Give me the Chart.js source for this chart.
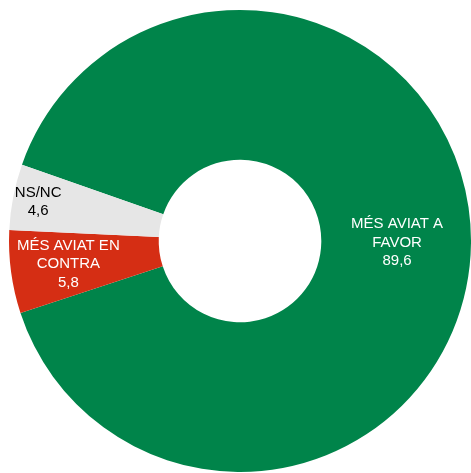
<!DOCTYPE html>
<html>
<head>
<meta charset="utf-8">
<script src="https://cdn.jsdelivr.net/npm/chart.js@4.4.1/dist/chart.umd.min.js"></script>
<style>
  html, body { margin: 0; padding: 0; background: #fff; }
  #wrap { width: 471px; height: 473px; }
</style>
</head>
<body>
<div id="wrap"><canvas id="myChart"></canvas></div>
<script>
const labels = [["MÉS AVIAT A", "FAVOR"], ["MÉS AVIAT EN", "CONTRA"], ["NS/NC"]];
const values = [89.6, 5.8, 4.6];
const valueText = ["89,6", "5,8", "4,6"];
const colors = ["#00844a", "#d52e14", "#e6e6e6"];
const textColors = ["#ffffff", "#ffffff", "#000000"];
const labelRadius = [0.68, 0.75, 0.89];

// draws the category + value text inside each slice
const sliceLabels = {
  id: "sliceLabels",
  afterDatasetsDraw(chart) {
    const ctx = chart.ctx;
    const arcs = chart.getDatasetMeta(0).data;
    ctx.save();
    ctx.font = "15px 'Liberation Sans', Arial, sans-serif";
    ctx.textAlign = "center";
    ctx.textBaseline = "middle";
    arcs.forEach((arc, i) => {
      const p = arc.getProps(["x", "y", "startAngle", "endAngle", "outerRadius"], true);
      const mid = (p.startAngle + p.endAngle) / 2;
      const r = p.outerRadius * labelRadius[i];
      const cx = p.x + Math.cos(mid) * r;
      const cy = p.y + Math.sin(mid) * r;
      const lines = labels[i].concat([valueText[i]]);
      const lh = 18.5;
      const top = cy - (lines.length - 1) * lh / 2;
      ctx.fillStyle = textColors[i];
      lines.forEach((t, j) => ctx.fillText(t, cx, top + j * lh));
    });
    ctx.restore();
  }
};

new Chart("myChart", {
  type: "doughnut",
  data: {
    labels: labels.map(l => l.join(" ")),
    datasets: [{
      data: values,
      backgroundColor: colors,
      borderWidth: 0
    }]
  },
  options: {
    responsive: true,
    maintainAspectRatio: false,
    animation: false,
    cutout: "35.2%",
    rotation: -70.7,
    layout: { padding: { left: 9, top: 9, right: 0, bottom: 0 } },
    plugins: {
      legend: { display: false },
      tooltip: { enabled: false }
    }
  },
  plugins: [sliceLabels]
});
</script>
</body>
</html>
